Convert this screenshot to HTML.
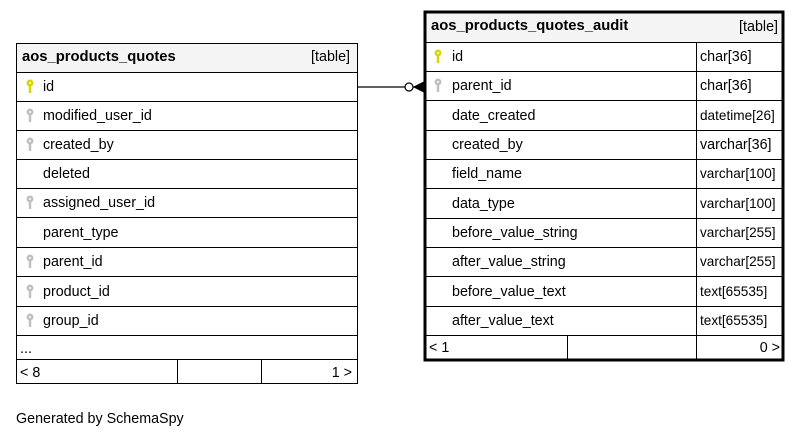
<!DOCTYPE html>
<html><head><style>
body{margin:0;background:#fff;width:804px;height:439px;overflow:hidden}
svg text{font-family:"Liberation Sans",Arial,sans-serif;font-size:14.3px;fill:#000}
</style></head><body>
<svg width="804" height="439" viewBox="0 0 804 439" xmlns="http://www.w3.org/2000/svg">
<rect x="16.5" y="43.5" width="341" height="29" fill="#f4f4f4"/>
<g stroke="#000" stroke-width="1" fill="none">
<rect x="16.5" y="43.5" width="341" height="340"/>
<line x1="16" y1="72.5" x2="358" y2="72.5"/>
<line x1="16" y1="101.5" x2="358" y2="101.5"/>
<line x1="16" y1="130.5" x2="358" y2="130.5"/>
<line x1="16" y1="159.5" x2="358" y2="159.5"/>
<line x1="16" y1="188.5" x2="358" y2="188.5"/>
<line x1="16" y1="217.5" x2="358" y2="217.5"/>
<line x1="16" y1="247.5" x2="358" y2="247.5"/>
<line x1="16" y1="276.5" x2="358" y2="276.5"/>
<line x1="16" y1="306.5" x2="358" y2="306.5"/>
<line x1="16" y1="335.5" x2="358" y2="335.5"/>
<line x1="16" y1="359.5" x2="358" y2="359.5"/>
<line x1="177.5" y1="359" x2="177.5" y2="383"/>
<line x1="261.5" y1="359" x2="261.5" y2="383"/>
</g>
<text x="22" y="61" font-weight="bold" style="font-size:14.8px">aos_products_quotes</text>
<text x="350" y="61" text-anchor="end">[table]</text>
<text x="43" y="91">id</text>
<text x="43" y="120">modified_user_id</text>
<text x="43" y="149">created_by</text>
<text x="43" y="178">deleted</text>
<text x="43" y="207">assigned_user_id</text>
<text x="43" y="237">parent_type</text>
<text x="43" y="266">parent_id</text>
<text x="43" y="296">product_id</text>
<text x="43" y="325">group_id</text>
<text x="20" y="353">...</text>
<text x="20" y="377">&lt; 8</text>
<text x="352" y="377" text-anchor="end">1 &gt;</text>

<rect x="425" y="13" width="358" height="29" fill="#f4f4f4"/>
<g stroke="#000" stroke-width="1" fill="none">
<line x1="424" y1="42.5" x2="784" y2="42.5"/>
<line x1="424" y1="71.5" x2="784" y2="71.5"/>
<line x1="424" y1="100.5" x2="784" y2="100.5"/>
<line x1="424" y1="130.5" x2="784" y2="130.5"/>
<line x1="424" y1="159.5" x2="784" y2="159.5"/>
<line x1="424" y1="188.5" x2="784" y2="188.5"/>
<line x1="424" y1="218.5" x2="784" y2="218.5"/>
<line x1="424" y1="247.5" x2="784" y2="247.5"/>
<line x1="424" y1="276.5" x2="784" y2="276.5"/>
<line x1="424" y1="306.5" x2="784" y2="306.5"/>
<line x1="424" y1="335.5" x2="784" y2="335.5"/>
<line x1="696.5" y1="42" x2="696.5" y2="360"/>
<line x1="567.5" y1="335" x2="567.5" y2="360"/>
<rect x="425" y="12" width="358" height="348" stroke-width="3"/>
</g>
<text x="431" y="30" font-weight="bold" style="font-size:14.8px">aos_products_quotes_audit</text>
<text x="778" y="31" text-anchor="end">[table]</text>
<g>
<text x="452" y="61">id</text><text x="700" y="61">char[36]</text>
<text x="452" y="90">parent_id</text><text x="700" y="90">char[36]</text>
<text x="452" y="120">date_created</text><text x="700" y="120" style="font-size:13.6px">datetime[26]</text>
<text x="452" y="149">created_by</text><text x="700" y="149">varchar[36]</text>
<text x="452" y="178">field_name</text><text x="700" y="178" style="font-size:13.6px">varchar[100]</text>
<text x="452" y="208">data_type</text><text x="700" y="208" style="font-size:13.6px">varchar[100]</text>
<text x="452" y="237">before_value_string</text><text x="700" y="237" style="font-size:13.6px">varchar[255]</text>
<text x="452" y="266">after_value_string</text><text x="700" y="266" style="font-size:13.6px">varchar[255]</text>
<text x="452" y="296">before_value_text</text><text x="700" y="296" style="font-size:13.6px">text[65535]</text>
<text x="452" y="325">after_value_text</text><text x="700" y="325" style="font-size:13.6px">text[65535]</text>
<text x="429" y="352">&lt; 1</text>
<text x="780" y="352" text-anchor="end">0 &gt;</text>
</g>

<g stroke-width="2.5" fill="none">
<g stroke="#d8d800"><circle cx="30" cy="83" r="2.2"/><line x1="30" y1="85" x2="30" y2="93"/></g>
<g stroke="#c0c0c0">
<circle cx="30" cy="112" r="2.2"/><line x1="30" y1="114" x2="30" y2="122"/>
<circle cx="30" cy="141" r="2.2"/><line x1="30" y1="143" x2="30" y2="151"/>
<circle cx="30" cy="199" r="2.2"/><line x1="30" y1="201" x2="30" y2="209"/>
<circle cx="30" cy="258" r="2.2"/><line x1="30" y1="260" x2="30" y2="268"/>
<circle cx="30" cy="288" r="2.2"/><line x1="30" y1="290" x2="30" y2="298"/>
<circle cx="30" cy="317" r="2.2"/><line x1="30" y1="319" x2="30" y2="327"/>
<circle cx="438" cy="82" r="2.2"/><line x1="438" y1="84" x2="438" y2="92"/>
</g>
<g stroke="#d8d800"><circle cx="438" cy="53" r="2.2"/><line x1="438" y1="55" x2="438" y2="63"/></g>
</g>

<g stroke="#000" stroke-width="1.2" fill="none">
<line x1="358" y1="87" x2="405" y2="87"/>
<circle cx="409" cy="87" r="4" fill="#fff"/>
<line x1="413" y1="87" x2="424" y2="87"/>
<line x1="414" y1="87" x2="424" y2="82"/>
<line x1="414" y1="87" x2="424" y2="92"/>
</g>
<polygon points="414,87 424,82 424,92" fill="#000"/>

<text x="16" y="423">Generated by SchemaSpy</text>
</svg>
</body></html>
